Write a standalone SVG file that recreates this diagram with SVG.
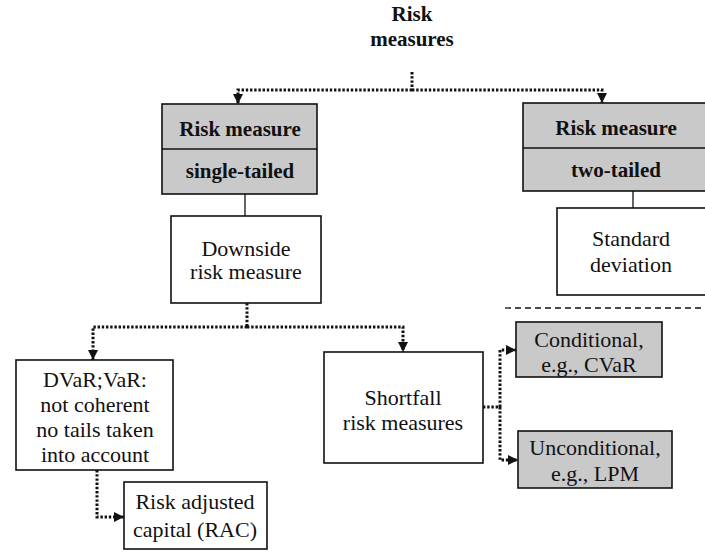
<svg xmlns="http://www.w3.org/2000/svg" width="705" height="555" viewBox="0 0 705 555">
<style>
  .box { fill: #ffffff; stroke: #111; stroke-width: 1.6; }
  .gbox { fill: #c9c9c9; stroke: #111; stroke-width: 1.6; }
  .t { font-family: "Liberation Serif", "Times New Roman", serif; font-size: 22px; fill: #111; text-anchor: middle; }
  .b { font-family: "Liberation Serif", "Times New Roman", serif; font-size: 21px; font-weight: bold; fill: #111; text-anchor: middle; }
  .dot { fill: none; stroke: #111; stroke-width: 3; stroke-dasharray: 2.4 1.8; }
  .solid { fill: none; stroke: #111; stroke-width: 1.3; }
  .dash { fill: none; stroke: #111; stroke-width: 1.3; stroke-dasharray: 6 4; }
</style>
<defs>
  <marker id="arr" viewBox="0 0 10 10" refX="10" refY="5" markerUnits="userSpaceOnUse" markerWidth="10" markerHeight="10" orient="auto">
    <path d="M0,0 L10,5 L0,10 z" fill="#111"/>
  </marker>
</defs>

<g id="root">
  <text class="b" x="412" y="21">Risk</text>
  <text class="b" x="412" y="46">measures</text>
</g>

<g id="single-tailed">
  <rect class="gbox" x="162" y="104" width="155" height="90"/>
  <line x1="162" y1="149" x2="317" y2="149" stroke="#111" stroke-width="1.6"/>
  <text class="b" x="240" y="136">Risk measure</text>
  <text class="b" x="240" y="178">single-tailed</text>
</g>

<g id="two-tailed">
  <rect class="gbox" x="523" y="103" width="184" height="88"/>
  <line x1="523" y1="148" x2="707" y2="148" stroke="#111" stroke-width="1.6"/>
  <text class="b" x="616" y="135">Risk measure</text>
  <text class="b" x="616" y="177">two-tailed</text>
</g>

<g id="downside">
  <rect class="box" x="171" y="216" width="150" height="87"/>
  <text class="t" x="246" y="256">Downside</text>
  <text class="t" x="246" y="279">risk measure</text>
</g>

<g id="stddev">
  <rect class="box" x="557" y="208" width="150" height="87"/>
  <text class="t" x="631" y="246">Standard</text>
  <text class="t" x="631" y="272">deviation</text>
</g>

<g id="dvar">
  <rect class="box" x="16" y="360" width="157" height="110"/>
  <text class="t" x="95" y="387">DVaR;VaR:</text>
  <text class="t" x="95" y="412">not coherent</text>
  <text class="t" x="95" y="437">no tails taken</text>
  <text class="t" x="95" y="462">into account</text>
</g>

<g id="rac">
  <rect class="box" x="124" y="482" width="143" height="67"/>
  <text class="t" x="195" y="509">Risk adjusted</text>
  <text class="t" x="195" y="537">capital (RAC)</text>
</g>

<g id="shortfall">
  <rect class="box" x="324" y="352" width="159" height="111"/>
  <text class="t" x="403" y="405">Shortfall</text>
  <text class="t" x="403" y="430">risk measures</text>
</g>

<g id="conditional">
  <rect class="gbox" x="516" y="322" width="146" height="55"/>
  <text class="t" x="589" y="347">Conditional,</text>
  <text class="t" x="589" y="372">e.g., CVaR</text>
</g>

<g id="unconditional">
  <rect class="gbox" x="518" y="431" width="154" height="57"/>
  <text class="t" x="595" y="455">Unconditional,</text>
  <text class="t" x="595" y="481">e.g., LPM</text>
</g>

<g id="connectors">
  <path class="dot" d="M412,72 V90"/>
  <path class="dot" d="M412,90 H238 V104" marker-end="url(#arr)"/>
  <path class="dot" d="M412,90 H602 V103" marker-end="url(#arr)"/>
  <path class="solid" d="M245,194 V216"/>
  <path class="solid" d="M633,191 V208"/>
  <path class="dot" d="M247,303 V327"/>
  <path class="dot" d="M247,327 H93 V360" marker-end="url(#arr)"/>
  <path class="dot" d="M247,327 H403 V352" marker-end="url(#arr)"/>
  <path class="dot" d="M483,407 H500"/>
  <path class="dot" d="M500,407 V350 H516" marker-end="url(#arr)"/>
  <path class="dot" d="M500,407 V460 H518" marker-end="url(#arr)"/>
  <path class="dot" d="M97,470 V517 H124" marker-end="url(#arr)"/>
  <path class="dash" d="M505,308 H705"/>
</g>
</svg>
